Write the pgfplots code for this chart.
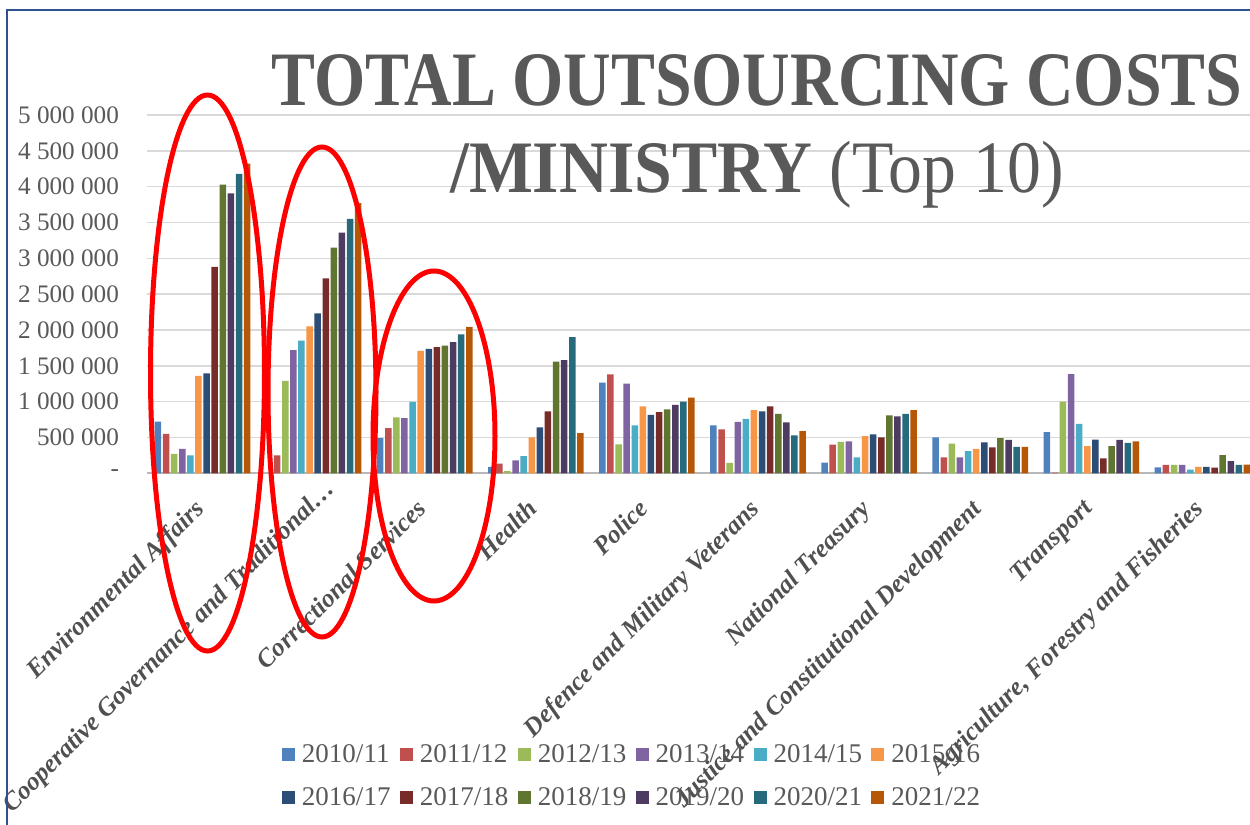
\documentclass[border=0pt]{standalone}
\usepackage{fontspec}
\setmainfont{Liberation Serif}
\usepackage{pgfplots}
\pgfplotsset{compat=1.18}
\definecolor{c1}{HTML}{4F81BD}
\definecolor{c2}{HTML}{C0504D}
\definecolor{c3}{HTML}{9BBB59}
\definecolor{c4}{HTML}{8064A2}
\definecolor{c5}{HTML}{4BACC6}
\definecolor{c6}{HTML}{F79646}
\definecolor{c7}{HTML}{2C4D75}
\definecolor{c8}{HTML}{772C2A}
\definecolor{c9}{HTML}{5F7530}
\definecolor{c10}{HTML}{4D3B62}
\definecolor{c11}{HTML}{276A7C}
\definecolor{c12}{HTML}{B65708}
\definecolor{tgray}{HTML}{595959}
\definecolor{lgray}{HTML}{505050}
\definecolor{gridgray}{HTML}{D9D9D9}
\definecolor{frameblue}{HTML}{2F528F}
\begin{document}
\begin{tikzpicture}
\useasboundingbox (0,0) rectangle (625pt,412.5pt);
\clip (0,0) rectangle (625pt,412.5pt);
\fill[white] (0,0) rectangle (625pt,412.5pt);
\begin{axis}[
  at={(73.5pt,175.85pt)}, anchor=south west,
  scale only axis, width=555.5pt, height=179.15pt,
  xmin=-0.5, xmax=9.5, ymin=0, ymax=5000000,
  scaled y ticks=false,
  ybar=0.8pt, bar width=3.25pt,
  axis x line*=bottom, axis y line*=left,
  y axis line style={draw=none},
  x axis line style={draw=gridgray!85!black, line width=0.8pt},
  major tick length=0pt,
  ymajorgrids, grid style={color=gridgray, line width=0.7pt},
  xtick={0,1,2,3,4,5,6,7,8,9},
  xticklabels={{Environmental Affairs},{Cooperative Governance and Traditional\ldots\kern-14pt},{Correctional Services},{Health},{Police},{Defence and Military Veterans},{National Treasury},{Justice and Constitutional Development},{Transport},{Agriculture, Forestry and Fisheries}},
  xticklabel style={xshift=-5pt, yshift=-9pt, rotate=45, anchor=north east, font=\fontsize{12.8}{15}\selectfont\bfseries\itshape, text=lgray, inner sep=2pt},
  ytick={0,500000,1000000,1500000,2000000,2500000,3000000,3500000,4000000,4500000,5000000},
  yticklabels={{-\hspace{5pt}},{500 000},{1 000 000},{1 500 000},{2 000 000},{2 500 000},{3 000 000},{3 500 000},{4 000 000},{4 500 000},{5 000 000}},
  yticklabel style={font=\fontsize{12.6}{14}\selectfont, text=tgray, xshift=-10.5pt},
  legend columns=6,
  legend cell align=left,
  legend style={at={(0.4388,-0.845)}, anchor=center, draw=none, fill=none,
    font=\fontsize{13.5}{15}\selectfont, text=tgray, row sep=7pt,
    nodes={inner xsep=3.5pt},
    /tikz/every even column/.append style={column sep=1.2pt}},
  legend image code/.code={\draw[#1,/tikz/.cd,draw=none] (0pt,-3.25pt) rectangle (6.5pt,3.25pt);},
]
\addplot[fill=c1, draw=none] coordinates {(0,720000) (1,0) (2,490000) (3,90000) (4,1265000) (5,670000) (6,150000) (7,500000) (8,576000) (9,84000)};
\addplot[fill=c2, draw=none] coordinates {(0,550000) (1,250000) (2,630000) (3,135000) (4,1380000) (5,614000) (6,400000) (7,223000) (8,10000) (9,116000)};
\addplot[fill=c3, draw=none] coordinates {(0,270000) (1,1290000) (2,780000) (3,30000) (4,405000) (5,145000) (6,437000) (7,414000) (8,1000000) (9,116000)};
\addplot[fill=c4, draw=none] coordinates {(0,340000) (1,1720000) (2,770000) (3,180000) (4,1250000) (5,716000) (6,446000) (7,223000) (8,1385000) (9,116000)};
\addplot[fill=c5, draw=none] coordinates {(0,250000) (1,1850000) (2,995000) (3,240000) (4,670000) (5,760000) (6,223000) (7,310000) (8,690000) (9,50000)};
\addplot[fill=c6, draw=none] coordinates {(0,1360000) (1,2050000) (2,1710000) (3,500000) (4,935000) (5,880000) (6,520000) (7,340000) (8,380000) (9,88000)};
\addplot[fill=c7, draw=none] coordinates {(0,1395000) (1,2230000) (2,1735000) (3,640000) (4,815000) (5,865000) (6,544000) (7,432000) (8,470000) (9,88000)};
\addplot[fill=c8, draw=none] coordinates {(0,2880000) (1,2720000) (2,1760000) (3,865000) (4,855000) (5,935000) (6,500000) (7,363000) (8,210000) (9,79000)};
\addplot[fill=c9, draw=none] coordinates {(0,4030000) (1,3150000) (2,1780000) (3,1560000) (4,893000) (5,830000) (6,810000) (7,490000) (8,380000) (9,255000)};
\addplot[fill=c10, draw=none] coordinates {(0,3905000) (1,3360000) (2,1830000) (3,1580000) (4,955000) (5,710000) (6,795000) (7,465000) (8,465000) (9,170000)};
\addplot[fill=c11, draw=none] coordinates {(0,4180000) (1,3550000) (2,1940000) (3,1900000) (4,1000000) (5,530000) (6,830000) (7,367000) (8,423000) (9,116000)};
\addplot[fill=c12, draw=none] coordinates {(0,4320000) (1,3770000) (2,2045000) (3,560000) (4,1055000) (5,590000) (6,880000) (7,367000) (8,446000) (9,120000)};
\legend{2010/11,2011/12,2012/13,2013/14,2014/15,2015/16,2016/17,2017/18,2018/19,2019/20,2020/21,2021/22}
\end{axis}
\node[anchor=base, text=tgray, inner sep=0pt] at (378.5pt,359.5pt) {\scalebox{0.855}[1]{\fontsize{38.5}{40}\selectfont\bfseries TOTAL OUTSOURCING COSTS}};
\node[anchor=base, text=tgray, inner sep=0pt] at (378.5pt,316pt) {\scalebox{0.915}[1]{\fontsize{37}{40}\selectfont\textbf{/MINISTRY} (Top 10)}};
\draw[red, line width=2.5pt] (103.75pt,226pt) ellipse [x radius=28.5pt, y radius=139pt];
\draw[red, line width=2.5pt] (161pt,216.5pt) ellipse [x radius=27pt, y radius=122.5pt];
\draw[red, line width=2.5pt] (217pt,194.5pt) ellipse [x radius=30.5pt, y radius=82.5pt];
\draw[frameblue, line width=0.9pt] (3.5pt,-1pt) -- (3.5pt,407.5pt) -- (630pt,407.5pt);
\end{tikzpicture}
\end{document}
